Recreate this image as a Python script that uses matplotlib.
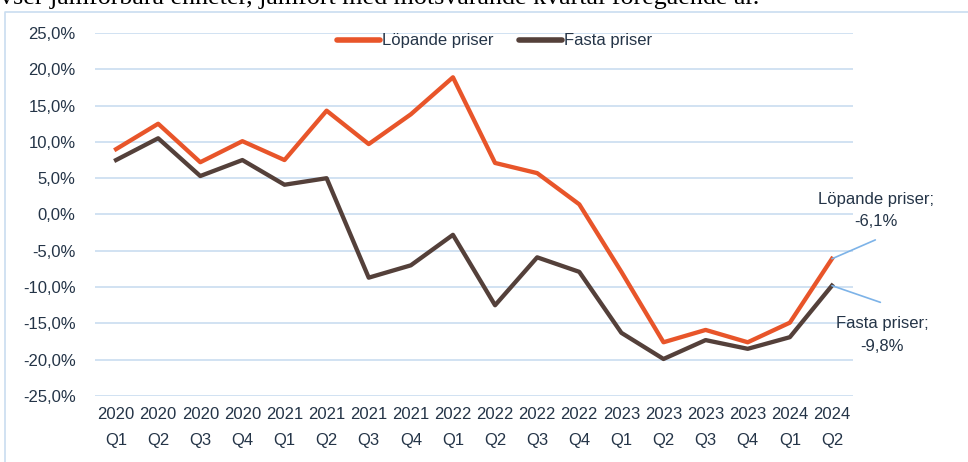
import matplotlib.pyplot as plt

# data: change vs same quarter previous year (%)
quarters = ["2020\nQ1", "2020\nQ2", "2020\nQ3", "2020\nQ4",
            "2021\nQ1", "2021\nQ2", "2021\nQ3", "2021\nQ4",
            "2022\nQ1", "2022\nQ2", "2022\nQ3", "2022\nQ4",
            "2023\nQ1", "2023\nQ2", "2023\nQ3", "2023\nQ4",
            "2024\nQ1", "2024\nQ2"]
lopande = [9.0, 12.5, 7.2, 10.1, 7.5, 14.3, 9.7, 13.8, 18.9, 7.1,
           5.7, 1.4, -7.9, -17.6, -15.9, -17.6, -14.9, -6.1]
fasta = [7.5, 10.5, 5.3, 7.5, 4.1, 5.0, -8.7, -7.0, -2.8, -12.5,
         -5.9, -7.9, -16.3, -19.9, -17.3, -18.5, -16.9, -9.8]
yticks = [25, 20, 15, 10, 5, 0, -5, -10, -15, -20, -25]

plt.rcParams["font.family"] = ["Liberation Sans", "DejaVu Sans"]

txt = "#243447"
orange = "#E8552A"
brown = "#54403A"
grid = "#C9DDF0"
leader = "#7DB3E8"

fig = plt.figure(figsize=(9.68, 4.62), dpi=100)
ax = fig.add_axes([95 / 968, 1 - 396 / 462, (853 - 95) / 968, (396 - 33) / 462])

# outer chart frame (left and top edges visible)
fig.add_artist(plt.Line2D([5 / 968, 5 / 968, 1.0], [0, 1 - 12 / 462, 1 - 12 / 462],
                          transform=fig.transFigure, color=grid, linewidth=1.2))

# cropped caption above the chart
fig.text(0.0, 1 - 4 / 462, "vser jämförbara enheter, jämfört med motsvarande kvartal föregående år.",
         family="Liberation Serif", fontsize=18.7, color="black", va="baseline")

x = list(range(len(quarters)))
ax.plot(x, lopande, color=orange, linewidth=3.1, label="Löpande priser")
ax.plot(x, fasta, color=brown, linewidth=3.1, label="Fasta priser")

ax.set_xlim(-0.5, len(quarters) - 0.5)
ax.set_ylim(-25, 25)
ax.set_yticks(yticks)
ax.set_yticklabels([f"{v:.1f}%".replace(".", ",") for v in yticks])
ax.set_xticks(x)
ax.set_xticklabels(quarters, linespacing=1.9)
ax.tick_params(length=0, labelsize=12, colors=txt)
ax.tick_params(axis="y", pad=14)
ax.tick_params(axis="x", pad=8)
ax.grid(axis="y", color=grid, linewidth=1.2)
ax.set_axisbelow(True)
for s in ax.spines.values():
    s.set_visible(False)

leg = ax.legend(loc="upper center", bbox_to_anchor=(0.527, 1.04), ncol=2, frameon=False,
                fontsize=12, handlelength=2.6, handletextpad=0.12, columnspacing=1.5)
for t in leg.get_texts():
    t.set_color(txt)
for h in leg.get_lines():
    h.set_linewidth(4)
    h.set_solid_capstyle("round")

# end labels with leader lines
n = len(quarters) - 1
ax.annotate("", xy=(n, lopande[-1]), xytext=(n + 1.03, -3.5), annotation_clip=False,
            arrowprops=dict(arrowstyle="-", color=leader, linewidth=1.2, shrinkA=0, shrinkB=0))
ax.text(n + 1.05, 0.6, f"Löpande priser;\n{lopande[-1]:.1f}%".replace(".", ","),
        ha="center", va="center", fontsize=12, color=txt, linespacing=1.6, clip_on=False)
ax.annotate("", xy=(n, fasta[-1]), xytext=(n + 1.15, -12.1), annotation_clip=False,
            arrowprops=dict(arrowstyle="-", color=leader, linewidth=1.2, shrinkA=0, shrinkB=0))
ax.text(n + 1.2, -16.6, f"Fasta priser;\n{fasta[-1]:.1f}%".replace(".", ","),
        ha="center", va="center", fontsize=12, color=txt, linespacing=1.6, clip_on=False)

fig.savefig("out.png", dpi=100)
